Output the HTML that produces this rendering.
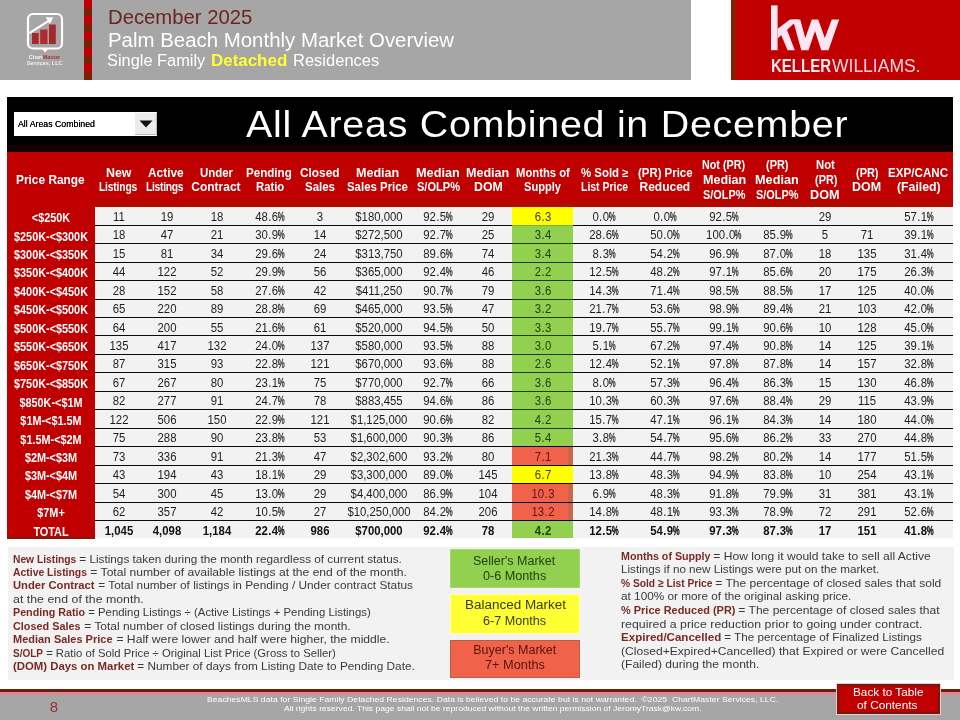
<!DOCTYPE html>
<html lang="en"><head><meta charset="utf-8"><title>Palm Beach Monthly Market Overview</title>
<style>
*{box-sizing:border-box;margin:0;padding:0}
html,body{width:960px;height:720px;overflow:hidden;background:#fff}
body{position:relative;font-family:"Liberation Sans",sans-serif;color:#222;will-change:transform}
.a{position:absolute}
.t{position:absolute;white-space:nowrap}
.c{position:absolute;width:100px;margin-left:-50px;text-align:center;white-space:nowrap}
.hd{color:#fff;font-weight:bold;font-size:12px;line-height:14px}
.d{font-size:11.9px;line-height:18px;color:#1e1e1e;transform:scaleX(.955)}
.d.b{font-weight:bold;color:#101010}
.p{display:inline-block;transform:scaleX(.68);transform-origin:0 50%;margin-right:-3.3px;margin-left:-0.4px;-webkit-text-stroke:.3px currentColor}
.dt{margin:0 0.45px}
.lb{color:#fff;font-weight:bold;font-size:12px;line-height:18px;transform:scaleX(.905)}
.lg{font-size:11.3px;line-height:13.4px;color:#3a3a3a}
.lg b{color:#7a2a22}
.ft{font-size:7.9px;line-height:9px;color:#fff}
</style></head><body>
<div class="a" style="left:0;top:0;width:690.8px;height:79.6px;background:#a6a6a6"></div>
<div class="a" style="left:84px;top:0;width:8px;height:80px;background:repeating-linear-gradient(180deg,#c00000 0,#c00000 8px,#7e2106 8px,#7e2106 16px)"></div>
<div class="a" style="left:731px;top:0;width:229px;height:79.7px;background:#c00000"></div>
<div class="a" style="left:731px;top:0;width:4.8px;height:79.7px;background:#8a1c08"></div>
<div class="t " style="left:107.50px;top:5.30px;letter-spacing:0.000px;transform:scaleX(1.025);transform-origin:0 0;font-size:19.8px;line-height:24px;color:#6e2222">December 2025</div>
<div class="t " style="left:107.50px;top:28.40px;letter-spacing:0.000px;transform:scaleX(1.053);transform-origin:0 0;font-size:19.4px;line-height:24px;color:#fff">Palm Beach Monthly Market Overview</div>
<div class="t " style="left:107.20px;top:49.30px;letter-spacing:0.000px;transform:scaleX(1.006);transform-origin:0 0;font-size:16.3px;line-height:22px;color:#fff">Single Family</div>
<div class="t " style="left:210.80px;top:49.30px;letter-spacing:0.000px;transform:scaleX(1.040);transform-origin:0 0;font-size:16.3px;line-height:22px;color:#ffff33;font-weight:bold">Detached</div>
<div class="t " style="left:292.50px;top:49.30px;letter-spacing:0.000px;transform:scaleX(1.014);transform-origin:0 0;font-size:16.3px;line-height:22px;color:#fff">Residences</div>
<svg class="a" style="left:20px;top:8px" width="50" height="66" viewBox="20 8 50 66">
<rect x="28" y="14" width="34" height="34.5" rx="5" ry="5" fill="none" stroke="#fff" stroke-width="2.2"/>
<path d="M41.5 48.5 L45 52.5 L48.5 48.5 Z" fill="#fff"/>
<rect x="32" y="33" width="6.7" height="11" fill="#a5282a"/>
<rect x="40.2" y="29.5" width="7.3" height="14.5" fill="#b32a2c"/>
<rect x="49" y="24.5" width="6.8" height="19.5" fill="#a5282a"/>
<path d="M29.3 33.2 L49 20.6" stroke="#fff" stroke-width="2.1" fill="none"/>
<path d="M45.6 17.2 L53.2 17.4 L49.8 24 Z" fill="#fff"/>
<text x="44.5" y="58.6" font-family="Liberation Sans, sans-serif" font-weight="bold" font-size="5.4" text-anchor="middle" fill="#f2f2f2">Chart<tspan fill="#a33">Master</tspan></text>
<text x="44.5" y="64.6" font-family="Liberation Sans, sans-serif" font-weight="bold" font-size="5.4" text-anchor="middle" fill="#f2f2f2">Services, LLC</text>
</svg>
<svg class="a" style="left:760px;top:0" width="180" height="80" viewBox="760 0 180 80">
<g fill="#fde6f2">
<rect x="771" y="5.4" width="6.6" height="44.8"/>
<polygon points="777.6,28.8 790,19.6 798.2,19.6 777.6,38.4"/>
<polygon points="780.6,33.4 786.6,28.8 794.8,50.2 787.6,50.2"/>
<polygon points="792.8,19.6 800.2,19.6 805.3,38 811.8,19.6 818.2,19.6 824.8,38 831.8,19.6 839.2,19.6 828.5,50.2 821.3,50.2 815,31 808.5,50.2 801.3,50.2"/>
</g>
<text x="771" y="72.2" font-family="Liberation Sans, sans-serif" font-size="18.4" font-weight="bold" fill="#fde6f2" textLength="60" lengthAdjust="spacingAndGlyphs">KELLER</text>
<text x="832" y="72.2" font-family="Liberation Sans, sans-serif" font-size="18.4" fill="#fbd5e2" textLength="88.5" lengthAdjust="spacingAndGlyphs">WILLIAMS.</text>
</svg>
<div class="a" style="left:7px;top:97px;width:946px;height:48px;background:#000"></div>
<div class="a" style="left:7px;top:144.5px;width:946px;height:7.5px;background:#190000"></div>
<div class="a" style="left:7px;top:151.5px;width:946px;height:55.80px;background:#c00000"></div>
<div class="a" style="left:7px;top:206.80px;width:88px;height:332.00px;background:#c00000;border-bottom:2px solid #7a1c0a"></div>
<div class="a" style="left:95px;top:200.6px;width:858px;height:6.50px;background:#b30a00"></div>
<div class="a" style="left:14px;top:112px;width:143px;height:23.5px;background:#fff"></div>
<div class="a" style="left:135px;top:112.5px;width:21.5px;height:22.5px;background:#ececec;border-right:1px solid #bbb;border-bottom:1px solid #bbb"></div>
<svg class="a" style="left:139px;top:120px" width="14" height="8" viewBox="0 0 14 8"><path d="M0.5 0.5 L13.5 0.5 L7 7.5 Z" fill="#111"/></svg>
<div class="t " style="left:18.00px;top:118.00px;letter-spacing:0.000px;transform:scaleX(0.974);transform-origin:0 0;font-size:9px;line-height:12px;color:#000;text-shadow:0 0 .4px #000">All Areas Combined</div>
<div class="t " style="left:246.40px;top:102.20px;letter-spacing:0.683px;transform:scaleX(1.060);transform-origin:0 0;font-size:37.2px;line-height:44px;color:#fff">All Areas Combined in December</div>
<div class="t hd" style="left:16.25px;top:173.40px;letter-spacing:0.000px;transform:scaleX(0.944);transform-origin:0 0;font-size:12.6px">Price Range</div>
<div class="t hd" style="left:106.25px;top:165.50px;letter-spacing:0.000px;transform:scaleX(1.033);transform-origin:0 0;">New</div>
<div class="t hd" style="left:99.25px;top:179.90px;letter-spacing:-0.220px;transform:scaleX(0.860);transform-origin:0 0;">Listings</div>
<div class="t hd" style="left:147.50px;top:165.50px;letter-spacing:0.000px;transform:scaleX(0.992);transform-origin:0 0;">Active</div>
<div class="t hd" style="left:146.25px;top:179.90px;letter-spacing:-0.344px;transform:scaleX(0.860);transform-origin:0 0;">Listings</div>
<div class="t hd" style="left:199.50px;top:165.50px;letter-spacing:0.000px;transform:scaleX(0.952);transform-origin:0 0;">Under</div>
<div class="t hd" style="left:191.25px;top:179.90px;letter-spacing:0.000px;">Contract</div>
<div class="t hd" style="left:246.25px;top:165.50px;letter-spacing:0.000px;transform:scaleX(0.966);transform-origin:0 0;">Pending</div>
<div class="t hd" style="left:256.25px;top:179.90px;letter-spacing:0.000px;transform:scaleX(0.942);transform-origin:0 0;">Ratio</div>
<div class="t hd" style="left:300.00px;top:165.50px;letter-spacing:0.000px;transform:scaleX(0.987);transform-origin:0 0;">Closed</div>
<div class="t hd" style="left:305.00px;top:179.90px;letter-spacing:0.000px;transform:scaleX(0.957);transform-origin:0 0;">Sales</div>
<div class="t hd" style="left:356.25px;top:165.50px;letter-spacing:-0.000px;transform:scaleX(1.046);transform-origin:0 0;">Median</div>
<div class="t hd" style="left:347.00px;top:179.90px;letter-spacing:0.000px;transform:scaleX(0.952);transform-origin:0 0;">Sales Price</div>
<div class="t hd" style="left:416.25px;top:165.50px;letter-spacing:0.000px;transform:scaleX(1.058);transform-origin:0 0;">Median</div>
<div class="t hd" style="left:417.00px;top:179.90px;letter-spacing:0.000px;transform:scaleX(0.921);transform-origin:0 0;">S/OLP%</div>
<div class="t hd" style="left:466.25px;top:165.50px;letter-spacing:-0.000px;transform:scaleX(1.046);transform-origin:0 0;">Median</div>
<div class="t hd" style="left:474.25px;top:179.90px;letter-spacing:0.000px;transform:scaleX(1.027);transform-origin:0 0;">DOM</div>
<div class="t hd" style="left:516.25px;top:165.50px;letter-spacing:0.000px;transform:scaleX(0.938);transform-origin:0 0;">Months of</div>
<div class="t hd" style="left:524.25px;top:179.90px;letter-spacing:0.000px;transform:scaleX(0.925);transform-origin:0 0;">Supply</div>
<div class="t hd" style="left:581.25px;top:165.50px;letter-spacing:0.000px;transform:scaleX(0.951);transform-origin:0 0;">% Sold ≥</div>
<div class="t hd" style="left:580.50px;top:179.90px;letter-spacing:0.000px;transform:scaleX(0.870);transform-origin:0 0;">List Price</div>
<div class="t hd" style="left:637.50px;top:165.50px;letter-spacing:0.000px;transform:scaleX(0.950);transform-origin:0 0;">(PR) Price</div>
<div class="t hd" style="left:639.50px;top:179.90px;letter-spacing:0.000px;">Reduced</div>
<div class="t hd" style="left:702.00px;top:158.20px;letter-spacing:0.000px;transform:scaleX(0.896);transform-origin:0 0;">Not (PR)</div>
<div class="t hd" style="left:702.50px;top:172.95px;letter-spacing:-0.000px;transform:scaleX(1.046);transform-origin:0 0;">Median</div>
<div class="t hd" style="left:702.50px;top:187.70px;letter-spacing:0.000px;transform:scaleX(0.910);transform-origin:0 0;">S/OLP%</div>
<div class="t hd" style="left:766.25px;top:158.20px;letter-spacing:0.000px;transform:scaleX(0.912);transform-origin:0 0;">(PR)</div>
<div class="t hd" style="left:755.00px;top:172.95px;letter-spacing:0.000px;transform:scaleX(1.058);transform-origin:0 0;">Median</div>
<div class="t hd" style="left:756.25px;top:187.70px;letter-spacing:0.000px;transform:scaleX(0.910);transform-origin:0 0;">S/OLP%</div>
<div class="t hd" style="left:816.25px;top:158.20px;letter-spacing:0.000px;transform:scaleX(0.938);transform-origin:0 0;">Not</div>
<div class="t hd" style="left:814.50px;top:172.95px;letter-spacing:0.000px;transform:scaleX(0.912);transform-origin:0 0;">(PR)</div>
<div class="t hd" style="left:810.00px;top:187.70px;letter-spacing:0.000px;transform:scaleX(1.054);transform-origin:0 0;">DOM</div>
<div class="t hd" style="left:856.00px;top:165.50px;letter-spacing:0.000px;transform:scaleX(0.912);transform-origin:0 0;">(PR)</div>
<div class="t hd" style="left:852.20px;top:179.90px;letter-spacing:0.000px;transform:scaleX(1.039);transform-origin:0 0;">DOM</div>
<div class="t hd" style="left:888.40px;top:165.50px;letter-spacing:0.000px;transform:scaleX(0.969);transform-origin:0 0;">EXP/CANC</div>
<div class="t hd" style="left:896.70px;top:179.90px;letter-spacing:0.000px;transform:scaleX(1.024);transform-origin:0 0;">(Failed)</div>
<div class="a" style="left:95px;top:206.80px;width:858px;height:331.70px;background:#f2f2f2"></div>
<div class="a" style="left:512px;top:206.80px;width:61px;height:18.75px;background:#ffff00"></div>
<div class="a" style="left:512px;top:225.25px;width:61px;height:18.75px;background:#92d050"></div>
<div class="a" style="left:512px;top:243.70px;width:61px;height:18.75px;background:#92d050"></div>
<div class="a" style="left:512px;top:262.15px;width:61px;height:18.75px;background:#92d050"></div>
<div class="a" style="left:512px;top:280.60px;width:61px;height:18.75px;background:#92d050"></div>
<div class="a" style="left:512px;top:299.05px;width:61px;height:18.75px;background:#92d050"></div>
<div class="a" style="left:512px;top:317.50px;width:61px;height:18.75px;background:#92d050"></div>
<div class="a" style="left:512px;top:335.95px;width:61px;height:18.75px;background:#92d050"></div>
<div class="a" style="left:512px;top:354.40px;width:61px;height:18.75px;background:#92d050"></div>
<div class="a" style="left:512px;top:372.85px;width:61px;height:18.75px;background:#92d050"></div>
<div class="a" style="left:512px;top:391.30px;width:61px;height:18.75px;background:#92d050"></div>
<div class="a" style="left:512px;top:409.75px;width:61px;height:18.75px;background:#92d050"></div>
<div class="a" style="left:512px;top:428.20px;width:61px;height:18.75px;background:#92d050"></div>
<div class="a" style="left:512px;top:446.65px;width:61px;height:18.75px;background:#f0634a"></div>
<div class="a" style="left:568.4px;top:446.65px;width:4.6px;height:18.75px;background:#c4694a"></div>
<div class="a" style="left:512px;top:465.10px;width:61px;height:18.75px;background:#ffff00"></div>
<div class="a" style="left:512px;top:483.55px;width:61px;height:18.75px;background:#f0634a"></div>
<div class="a" style="left:568.4px;top:483.55px;width:4.6px;height:18.75px;background:#c4694a"></div>
<div class="a" style="left:512px;top:502.00px;width:61px;height:18.75px;background:#f0634a"></div>
<div class="a" style="left:568.4px;top:502.00px;width:4.6px;height:18.75px;background:#c4694a"></div>
<div class="a" style="left:512px;top:520.45px;width:61px;height:18.05px;background:#92d050"></div>
<div class="a" style="left:95px;top:225px;width:417px;height:1px;background:#0a0a0a"></div>
<div class="a" style="left:512px;top:225px;width:61px;height:1px;background:rgba(40,40,0,.18)"></div>
<div class="a" style="left:573px;top:225px;width:380px;height:1px;background:#0a0a0a"></div>
<div class="a" style="left:95px;top:243px;width:417px;height:1px;background:#0a0a0a"></div>
<div class="a" style="left:512px;top:243px;width:61px;height:1px;background:rgba(0,15,0,.78)"></div>
<div class="a" style="left:573px;top:243px;width:380px;height:1px;background:#0a0a0a"></div>
<div class="a" style="left:95px;top:262px;width:417px;height:1px;background:#0a0a0a"></div>
<div class="a" style="left:512px;top:262px;width:61px;height:1px;background:rgba(0,15,0,.78)"></div>
<div class="a" style="left:573px;top:262px;width:380px;height:1px;background:#0a0a0a"></div>
<div class="a" style="left:95px;top:280px;width:417px;height:1px;background:#0a0a0a"></div>
<div class="a" style="left:512px;top:280px;width:61px;height:1px;background:rgba(0,15,0,.78)"></div>
<div class="a" style="left:573px;top:280px;width:380px;height:1px;background:#0a0a0a"></div>
<div class="a" style="left:95px;top:299px;width:417px;height:1px;background:#0a0a0a"></div>
<div class="a" style="left:512px;top:299px;width:61px;height:1px;background:rgba(0,15,0,.78)"></div>
<div class="a" style="left:573px;top:299px;width:380px;height:1px;background:#0a0a0a"></div>
<div class="a" style="left:95px;top:317px;width:417px;height:1px;background:#0a0a0a"></div>
<div class="a" style="left:512px;top:317px;width:61px;height:1px;background:rgba(0,15,0,.78)"></div>
<div class="a" style="left:573px;top:317px;width:380px;height:1px;background:#0a0a0a"></div>
<div class="a" style="left:95px;top:335px;width:417px;height:1px;background:#0a0a0a"></div>
<div class="a" style="left:512px;top:335px;width:61px;height:1px;background:rgba(0,15,0,.78)"></div>
<div class="a" style="left:573px;top:335px;width:380px;height:1px;background:#0a0a0a"></div>
<div class="a" style="left:95px;top:354px;width:417px;height:1px;background:#0a0a0a"></div>
<div class="a" style="left:512px;top:354px;width:61px;height:1px;background:rgba(0,15,0,.78)"></div>
<div class="a" style="left:573px;top:354px;width:380px;height:1px;background:#0a0a0a"></div>
<div class="a" style="left:95px;top:372px;width:417px;height:1px;background:#0a0a0a"></div>
<div class="a" style="left:512px;top:372px;width:61px;height:1px;background:rgba(0,15,0,.78)"></div>
<div class="a" style="left:573px;top:372px;width:380px;height:1px;background:#0a0a0a"></div>
<div class="a" style="left:95px;top:391px;width:417px;height:1px;background:#0a0a0a"></div>
<div class="a" style="left:512px;top:391px;width:61px;height:1px;background:rgba(0,15,0,.78)"></div>
<div class="a" style="left:573px;top:391px;width:380px;height:1px;background:#0a0a0a"></div>
<div class="a" style="left:95px;top:409px;width:417px;height:1px;background:#0a0a0a"></div>
<div class="a" style="left:512px;top:409px;width:61px;height:1px;background:rgba(0,15,0,.78)"></div>
<div class="a" style="left:573px;top:409px;width:380px;height:1px;background:#0a0a0a"></div>
<div class="a" style="left:95px;top:428px;width:417px;height:1px;background:#0a0a0a"></div>
<div class="a" style="left:512px;top:428px;width:61px;height:1px;background:rgba(0,15,0,.78)"></div>
<div class="a" style="left:573px;top:428px;width:380px;height:1px;background:#0a0a0a"></div>
<div class="a" style="left:95px;top:446px;width:858px;height:1px;background:#0a0a0a"></div>
<div class="a" style="left:95px;top:465px;width:858px;height:1px;background:#0a0a0a"></div>
<div class="a" style="left:95px;top:483px;width:858px;height:1px;background:#0a0a0a"></div>
<div class="a" style="left:95px;top:502px;width:858px;height:1px;background:#0a0a0a"></div>
<div class="a" style="left:95px;top:520px;width:858px;height:1px;background:#0a0a0a"></div>
<div class="c lb" style="left:51px;top:209.10px">&lt;$250K</div>
<div class="c d" style="left:119.3px;top:207.85px">11</div>
<div class="c d" style="left:166.5px;top:207.85px">19</div>
<div class="c d" style="left:217.2px;top:207.85px">18</div>
<div class="c d" style="left:270.0px;top:207.85px">48<span class="dt">.</span>6<span class="p">%</span></div>
<div class="c d" style="left:320.3px;top:207.85px">3</div>
<div class="c d" style="left:378.6px;top:207.85px">$180,000</div>
<div class="c d" style="left:438.2px;top:207.85px">92<span class="dt">.</span>5<span class="p">%</span></div>
<div class="c d" style="left:488.3px;top:207.85px">29</div>
<div class="c d" style="left:542.5px;top:207.85px;color:#3d3a05">6<span class="dt">.</span>3</div>
<div class="c d" style="left:604.2px;top:207.85px">0<span class="dt">.</span>0<span class="p">%</span></div>
<div class="c d" style="left:665.0px;top:207.85px">0<span class="dt">.</span>0<span class="p">%</span></div>
<div class="c d" style="left:723.7px;top:207.85px">92<span class="dt">.</span>5<span class="p">%</span></div>
<div class="c d" style="left:825.0px;top:207.85px">29</div>
<div class="c d" style="left:919.0px;top:207.85px">57<span class="dt">.</span>1<span class="p">%</span></div>
<div class="c lb" style="left:51px;top:227.55px">$250K-&lt;$300K</div>
<div class="c d" style="left:119.3px;top:226.30px">18</div>
<div class="c d" style="left:166.5px;top:226.30px">47</div>
<div class="c d" style="left:217.2px;top:226.30px">21</div>
<div class="c d" style="left:270.0px;top:226.30px">30<span class="dt">.</span>9<span class="p">%</span></div>
<div class="c d" style="left:320.3px;top:226.30px">14</div>
<div class="c d" style="left:378.6px;top:226.30px">$272,500</div>
<div class="c d" style="left:438.2px;top:226.30px">92<span class="dt">.</span>7<span class="p">%</span></div>
<div class="c d" style="left:488.3px;top:226.30px">25</div>
<div class="c d" style="left:542.5px;top:226.30px;color:#233f0f">3<span class="dt">.</span>4</div>
<div class="c d" style="left:604.2px;top:226.30px">28<span class="dt">.</span>6<span class="p">%</span></div>
<div class="c d" style="left:665.0px;top:226.30px">50<span class="dt">.</span>0<span class="p">%</span></div>
<div class="c d" style="left:723.7px;top:226.30px">100<span class="dt">.</span>0<span class="p">%</span></div>
<div class="c d" style="left:777.8px;top:226.30px">85<span class="dt">.</span>9<span class="p">%</span></div>
<div class="c d" style="left:825.0px;top:226.30px">5</div>
<div class="c d" style="left:867.0px;top:226.30px">71</div>
<div class="c d" style="left:919.0px;top:226.30px">39<span class="dt">.</span>1<span class="p">%</span></div>
<div class="c lb" style="left:51px;top:246.00px">$300K-&lt;$350K</div>
<div class="c d" style="left:119.3px;top:244.75px">15</div>
<div class="c d" style="left:166.5px;top:244.75px">81</div>
<div class="c d" style="left:217.2px;top:244.75px">34</div>
<div class="c d" style="left:270.0px;top:244.75px">29<span class="dt">.</span>6<span class="p">%</span></div>
<div class="c d" style="left:320.3px;top:244.75px">24</div>
<div class="c d" style="left:378.6px;top:244.75px">$313,750</div>
<div class="c d" style="left:438.2px;top:244.75px">89<span class="dt">.</span>6<span class="p">%</span></div>
<div class="c d" style="left:488.3px;top:244.75px">74</div>
<div class="c d" style="left:542.5px;top:244.75px;color:#233f0f">3<span class="dt">.</span>4</div>
<div class="c d" style="left:604.2px;top:244.75px">8<span class="dt">.</span>3<span class="p">%</span></div>
<div class="c d" style="left:665.0px;top:244.75px">54<span class="dt">.</span>2<span class="p">%</span></div>
<div class="c d" style="left:723.7px;top:244.75px">96<span class="dt">.</span>9<span class="p">%</span></div>
<div class="c d" style="left:777.8px;top:244.75px">87<span class="dt">.</span>0<span class="p">%</span></div>
<div class="c d" style="left:825.0px;top:244.75px">18</div>
<div class="c d" style="left:867.0px;top:244.75px">135</div>
<div class="c d" style="left:919.0px;top:244.75px">31<span class="dt">.</span>4<span class="p">%</span></div>
<div class="c lb" style="left:51px;top:264.45px">$350K-&lt;$400K</div>
<div class="c d" style="left:119.3px;top:263.20px">44</div>
<div class="c d" style="left:166.5px;top:263.20px">122</div>
<div class="c d" style="left:217.2px;top:263.20px">52</div>
<div class="c d" style="left:270.0px;top:263.20px">29<span class="dt">.</span>9<span class="p">%</span></div>
<div class="c d" style="left:320.3px;top:263.20px">56</div>
<div class="c d" style="left:378.6px;top:263.20px">$365,000</div>
<div class="c d" style="left:438.2px;top:263.20px">92<span class="dt">.</span>4<span class="p">%</span></div>
<div class="c d" style="left:488.3px;top:263.20px">46</div>
<div class="c d" style="left:542.5px;top:263.20px;color:#233f0f">2<span class="dt">.</span>2</div>
<div class="c d" style="left:604.2px;top:263.20px">12<span class="dt">.</span>5<span class="p">%</span></div>
<div class="c d" style="left:665.0px;top:263.20px">48<span class="dt">.</span>2<span class="p">%</span></div>
<div class="c d" style="left:723.7px;top:263.20px">97<span class="dt">.</span>1<span class="p">%</span></div>
<div class="c d" style="left:777.8px;top:263.20px">85<span class="dt">.</span>6<span class="p">%</span></div>
<div class="c d" style="left:825.0px;top:263.20px">20</div>
<div class="c d" style="left:867.0px;top:263.20px">175</div>
<div class="c d" style="left:919.0px;top:263.20px">26<span class="dt">.</span>3<span class="p">%</span></div>
<div class="c lb" style="left:51px;top:282.90px">$400K-&lt;$450K</div>
<div class="c d" style="left:119.3px;top:281.65px">28</div>
<div class="c d" style="left:166.5px;top:281.65px">152</div>
<div class="c d" style="left:217.2px;top:281.65px">58</div>
<div class="c d" style="left:270.0px;top:281.65px">27<span class="dt">.</span>6<span class="p">%</span></div>
<div class="c d" style="left:320.3px;top:281.65px">42</div>
<div class="c d" style="left:378.6px;top:281.65px">$411,250</div>
<div class="c d" style="left:438.2px;top:281.65px">90<span class="dt">.</span>7<span class="p">%</span></div>
<div class="c d" style="left:488.3px;top:281.65px">79</div>
<div class="c d" style="left:542.5px;top:281.65px;color:#233f0f">3<span class="dt">.</span>6</div>
<div class="c d" style="left:604.2px;top:281.65px">14<span class="dt">.</span>3<span class="p">%</span></div>
<div class="c d" style="left:665.0px;top:281.65px">71<span class="dt">.</span>4<span class="p">%</span></div>
<div class="c d" style="left:723.7px;top:281.65px">98<span class="dt">.</span>5<span class="p">%</span></div>
<div class="c d" style="left:777.8px;top:281.65px">88<span class="dt">.</span>5<span class="p">%</span></div>
<div class="c d" style="left:825.0px;top:281.65px">17</div>
<div class="c d" style="left:867.0px;top:281.65px">125</div>
<div class="c d" style="left:919.0px;top:281.65px">40<span class="dt">.</span>0<span class="p">%</span></div>
<div class="c lb" style="left:51px;top:301.35px">$450K-&lt;$500K</div>
<div class="c d" style="left:119.3px;top:300.10px">65</div>
<div class="c d" style="left:166.5px;top:300.10px">220</div>
<div class="c d" style="left:217.2px;top:300.10px">89</div>
<div class="c d" style="left:270.0px;top:300.10px">28<span class="dt">.</span>8<span class="p">%</span></div>
<div class="c d" style="left:320.3px;top:300.10px">69</div>
<div class="c d" style="left:378.6px;top:300.10px">$465,000</div>
<div class="c d" style="left:438.2px;top:300.10px">93<span class="dt">.</span>5<span class="p">%</span></div>
<div class="c d" style="left:488.3px;top:300.10px">47</div>
<div class="c d" style="left:542.5px;top:300.10px;color:#233f0f">3<span class="dt">.</span>2</div>
<div class="c d" style="left:604.2px;top:300.10px">21<span class="dt">.</span>7<span class="p">%</span></div>
<div class="c d" style="left:665.0px;top:300.10px">53<span class="dt">.</span>6<span class="p">%</span></div>
<div class="c d" style="left:723.7px;top:300.10px">98<span class="dt">.</span>9<span class="p">%</span></div>
<div class="c d" style="left:777.8px;top:300.10px">89<span class="dt">.</span>4<span class="p">%</span></div>
<div class="c d" style="left:825.0px;top:300.10px">21</div>
<div class="c d" style="left:867.0px;top:300.10px">103</div>
<div class="c d" style="left:919.0px;top:300.10px">42<span class="dt">.</span>0<span class="p">%</span></div>
<div class="c lb" style="left:51px;top:319.80px">$500K-&lt;$550K</div>
<div class="c d" style="left:119.3px;top:318.55px">64</div>
<div class="c d" style="left:166.5px;top:318.55px">200</div>
<div class="c d" style="left:217.2px;top:318.55px">55</div>
<div class="c d" style="left:270.0px;top:318.55px">21<span class="dt">.</span>6<span class="p">%</span></div>
<div class="c d" style="left:320.3px;top:318.55px">61</div>
<div class="c d" style="left:378.6px;top:318.55px">$520,000</div>
<div class="c d" style="left:438.2px;top:318.55px">94<span class="dt">.</span>5<span class="p">%</span></div>
<div class="c d" style="left:488.3px;top:318.55px">50</div>
<div class="c d" style="left:542.5px;top:318.55px;color:#233f0f">3<span class="dt">.</span>3</div>
<div class="c d" style="left:604.2px;top:318.55px">19<span class="dt">.</span>7<span class="p">%</span></div>
<div class="c d" style="left:665.0px;top:318.55px">55<span class="dt">.</span>7<span class="p">%</span></div>
<div class="c d" style="left:723.7px;top:318.55px">99<span class="dt">.</span>1<span class="p">%</span></div>
<div class="c d" style="left:777.8px;top:318.55px">90<span class="dt">.</span>6<span class="p">%</span></div>
<div class="c d" style="left:825.0px;top:318.55px">10</div>
<div class="c d" style="left:867.0px;top:318.55px">128</div>
<div class="c d" style="left:919.0px;top:318.55px">45<span class="dt">.</span>0<span class="p">%</span></div>
<div class="c lb" style="left:51px;top:338.25px">$550K-&lt;$650K</div>
<div class="c d" style="left:119.3px;top:337.00px">135</div>
<div class="c d" style="left:166.5px;top:337.00px">417</div>
<div class="c d" style="left:217.2px;top:337.00px">132</div>
<div class="c d" style="left:270.0px;top:337.00px">24<span class="dt">.</span>0<span class="p">%</span></div>
<div class="c d" style="left:320.3px;top:337.00px">137</div>
<div class="c d" style="left:378.6px;top:337.00px">$580,000</div>
<div class="c d" style="left:438.2px;top:337.00px">93<span class="dt">.</span>5<span class="p">%</span></div>
<div class="c d" style="left:488.3px;top:337.00px">88</div>
<div class="c d" style="left:542.5px;top:337.00px;color:#233f0f">3<span class="dt">.</span>0</div>
<div class="c d" style="left:604.2px;top:337.00px">5<span class="dt">.</span>1<span class="p">%</span></div>
<div class="c d" style="left:665.0px;top:337.00px">67<span class="dt">.</span>2<span class="p">%</span></div>
<div class="c d" style="left:723.7px;top:337.00px">97<span class="dt">.</span>4<span class="p">%</span></div>
<div class="c d" style="left:777.8px;top:337.00px">90<span class="dt">.</span>8<span class="p">%</span></div>
<div class="c d" style="left:825.0px;top:337.00px">14</div>
<div class="c d" style="left:867.0px;top:337.00px">125</div>
<div class="c d" style="left:919.0px;top:337.00px">39<span class="dt">.</span>1<span class="p">%</span></div>
<div class="c lb" style="left:51px;top:356.70px">$650K-&lt;$750K</div>
<div class="c d" style="left:119.3px;top:355.45px">87</div>
<div class="c d" style="left:166.5px;top:355.45px">315</div>
<div class="c d" style="left:217.2px;top:355.45px">93</div>
<div class="c d" style="left:270.0px;top:355.45px">22<span class="dt">.</span>8<span class="p">%</span></div>
<div class="c d" style="left:320.3px;top:355.45px">121</div>
<div class="c d" style="left:378.6px;top:355.45px">$670,000</div>
<div class="c d" style="left:438.2px;top:355.45px">93<span class="dt">.</span>6<span class="p">%</span></div>
<div class="c d" style="left:488.3px;top:355.45px">88</div>
<div class="c d" style="left:542.5px;top:355.45px;color:#233f0f">2<span class="dt">.</span>6</div>
<div class="c d" style="left:604.2px;top:355.45px">12<span class="dt">.</span>4<span class="p">%</span></div>
<div class="c d" style="left:665.0px;top:355.45px">52<span class="dt">.</span>1<span class="p">%</span></div>
<div class="c d" style="left:723.7px;top:355.45px">97<span class="dt">.</span>8<span class="p">%</span></div>
<div class="c d" style="left:777.8px;top:355.45px">87<span class="dt">.</span>8<span class="p">%</span></div>
<div class="c d" style="left:825.0px;top:355.45px">14</div>
<div class="c d" style="left:867.0px;top:355.45px">157</div>
<div class="c d" style="left:919.0px;top:355.45px">32<span class="dt">.</span>8<span class="p">%</span></div>
<div class="c lb" style="left:51px;top:375.15px">$750K-&lt;$850K</div>
<div class="c d" style="left:119.3px;top:373.90px">67</div>
<div class="c d" style="left:166.5px;top:373.90px">267</div>
<div class="c d" style="left:217.2px;top:373.90px">80</div>
<div class="c d" style="left:270.0px;top:373.90px">23<span class="dt">.</span>1<span class="p">%</span></div>
<div class="c d" style="left:320.3px;top:373.90px">75</div>
<div class="c d" style="left:378.6px;top:373.90px">$770,000</div>
<div class="c d" style="left:438.2px;top:373.90px">92<span class="dt">.</span>7<span class="p">%</span></div>
<div class="c d" style="left:488.3px;top:373.90px">66</div>
<div class="c d" style="left:542.5px;top:373.90px;color:#233f0f">3<span class="dt">.</span>6</div>
<div class="c d" style="left:604.2px;top:373.90px">8<span class="dt">.</span>0<span class="p">%</span></div>
<div class="c d" style="left:665.0px;top:373.90px">57<span class="dt">.</span>3<span class="p">%</span></div>
<div class="c d" style="left:723.7px;top:373.90px">96<span class="dt">.</span>4<span class="p">%</span></div>
<div class="c d" style="left:777.8px;top:373.90px">86<span class="dt">.</span>3<span class="p">%</span></div>
<div class="c d" style="left:825.0px;top:373.90px">15</div>
<div class="c d" style="left:867.0px;top:373.90px">130</div>
<div class="c d" style="left:919.0px;top:373.90px">46<span class="dt">.</span>8<span class="p">%</span></div>
<div class="c lb" style="left:51px;top:393.60px">$850K-&lt;$1M</div>
<div class="c d" style="left:119.3px;top:392.35px">82</div>
<div class="c d" style="left:166.5px;top:392.35px">277</div>
<div class="c d" style="left:217.2px;top:392.35px">91</div>
<div class="c d" style="left:270.0px;top:392.35px">24<span class="dt">.</span>7<span class="p">%</span></div>
<div class="c d" style="left:320.3px;top:392.35px">78</div>
<div class="c d" style="left:378.6px;top:392.35px">$883,455</div>
<div class="c d" style="left:438.2px;top:392.35px">94<span class="dt">.</span>6<span class="p">%</span></div>
<div class="c d" style="left:488.3px;top:392.35px">86</div>
<div class="c d" style="left:542.5px;top:392.35px;color:#233f0f">3<span class="dt">.</span>6</div>
<div class="c d" style="left:604.2px;top:392.35px">10<span class="dt">.</span>3<span class="p">%</span></div>
<div class="c d" style="left:665.0px;top:392.35px">60<span class="dt">.</span>3<span class="p">%</span></div>
<div class="c d" style="left:723.7px;top:392.35px">97<span class="dt">.</span>6<span class="p">%</span></div>
<div class="c d" style="left:777.8px;top:392.35px">88<span class="dt">.</span>4<span class="p">%</span></div>
<div class="c d" style="left:825.0px;top:392.35px">29</div>
<div class="c d" style="left:867.0px;top:392.35px">115</div>
<div class="c d" style="left:919.0px;top:392.35px">43<span class="dt">.</span>9<span class="p">%</span></div>
<div class="c lb" style="left:51px;top:412.05px">$1M-&lt;$1.5M</div>
<div class="c d" style="left:119.3px;top:410.80px">122</div>
<div class="c d" style="left:166.5px;top:410.80px">506</div>
<div class="c d" style="left:217.2px;top:410.80px">150</div>
<div class="c d" style="left:270.0px;top:410.80px">22<span class="dt">.</span>9<span class="p">%</span></div>
<div class="c d" style="left:320.3px;top:410.80px">121</div>
<div class="c d" style="left:378.6px;top:410.80px">$1,125,000</div>
<div class="c d" style="left:438.2px;top:410.80px">90<span class="dt">.</span>6<span class="p">%</span></div>
<div class="c d" style="left:488.3px;top:410.80px">82</div>
<div class="c d" style="left:542.5px;top:410.80px;color:#233f0f">4<span class="dt">.</span>2</div>
<div class="c d" style="left:604.2px;top:410.80px">15<span class="dt">.</span>7<span class="p">%</span></div>
<div class="c d" style="left:665.0px;top:410.80px">47<span class="dt">.</span>1<span class="p">%</span></div>
<div class="c d" style="left:723.7px;top:410.80px">96<span class="dt">.</span>1<span class="p">%</span></div>
<div class="c d" style="left:777.8px;top:410.80px">84<span class="dt">.</span>3<span class="p">%</span></div>
<div class="c d" style="left:825.0px;top:410.80px">14</div>
<div class="c d" style="left:867.0px;top:410.80px">180</div>
<div class="c d" style="left:919.0px;top:410.80px">44<span class="dt">.</span>0<span class="p">%</span></div>
<div class="c lb" style="left:51px;top:430.50px">$1.5M-&lt;$2M</div>
<div class="c d" style="left:119.3px;top:429.25px">75</div>
<div class="c d" style="left:166.5px;top:429.25px">288</div>
<div class="c d" style="left:217.2px;top:429.25px">90</div>
<div class="c d" style="left:270.0px;top:429.25px">23<span class="dt">.</span>8<span class="p">%</span></div>
<div class="c d" style="left:320.3px;top:429.25px">53</div>
<div class="c d" style="left:378.6px;top:429.25px">$1,600,000</div>
<div class="c d" style="left:438.2px;top:429.25px">90<span class="dt">.</span>3<span class="p">%</span></div>
<div class="c d" style="left:488.3px;top:429.25px">86</div>
<div class="c d" style="left:542.5px;top:429.25px;color:#233f0f">5<span class="dt">.</span>4</div>
<div class="c d" style="left:604.2px;top:429.25px">3<span class="dt">.</span>8<span class="p">%</span></div>
<div class="c d" style="left:665.0px;top:429.25px">54<span class="dt">.</span>7<span class="p">%</span></div>
<div class="c d" style="left:723.7px;top:429.25px">95<span class="dt">.</span>6<span class="p">%</span></div>
<div class="c d" style="left:777.8px;top:429.25px">86<span class="dt">.</span>2<span class="p">%</span></div>
<div class="c d" style="left:825.0px;top:429.25px">33</div>
<div class="c d" style="left:867.0px;top:429.25px">270</div>
<div class="c d" style="left:919.0px;top:429.25px">44<span class="dt">.</span>8<span class="p">%</span></div>
<div class="c lb" style="left:51px;top:448.95px">$2M-&lt;$3M</div>
<div class="c d" style="left:119.3px;top:447.70px">73</div>
<div class="c d" style="left:166.5px;top:447.70px">336</div>
<div class="c d" style="left:217.2px;top:447.70px">91</div>
<div class="c d" style="left:270.0px;top:447.70px">21<span class="dt">.</span>3<span class="p">%</span></div>
<div class="c d" style="left:320.3px;top:447.70px">47</div>
<div class="c d" style="left:378.6px;top:447.70px">$2,302,600</div>
<div class="c d" style="left:438.2px;top:447.70px">93<span class="dt">.</span>2<span class="p">%</span></div>
<div class="c d" style="left:488.3px;top:447.70px">80</div>
<div class="c d" style="left:542.5px;top:447.70px;color:#5c1512">7<span class="dt">.</span>1</div>
<div class="c d" style="left:604.2px;top:447.70px">21<span class="dt">.</span>3<span class="p">%</span></div>
<div class="c d" style="left:665.0px;top:447.70px">44<span class="dt">.</span>7<span class="p">%</span></div>
<div class="c d" style="left:723.7px;top:447.70px">98<span class="dt">.</span>2<span class="p">%</span></div>
<div class="c d" style="left:777.8px;top:447.70px">80<span class="dt">.</span>2<span class="p">%</span></div>
<div class="c d" style="left:825.0px;top:447.70px">14</div>
<div class="c d" style="left:867.0px;top:447.70px">177</div>
<div class="c d" style="left:919.0px;top:447.70px">51<span class="dt">.</span>5<span class="p">%</span></div>
<div class="c lb" style="left:51px;top:467.40px">$3M-&lt;$4M</div>
<div class="c d" style="left:119.3px;top:466.15px">43</div>
<div class="c d" style="left:166.5px;top:466.15px">194</div>
<div class="c d" style="left:217.2px;top:466.15px">43</div>
<div class="c d" style="left:270.0px;top:466.15px">18<span class="dt">.</span>1<span class="p">%</span></div>
<div class="c d" style="left:320.3px;top:466.15px">29</div>
<div class="c d" style="left:378.6px;top:466.15px">$3,300,000</div>
<div class="c d" style="left:438.2px;top:466.15px">89<span class="dt">.</span>0<span class="p">%</span></div>
<div class="c d" style="left:488.3px;top:466.15px">145</div>
<div class="c d" style="left:542.5px;top:466.15px;color:#3d3a05">6<span class="dt">.</span>7</div>
<div class="c d" style="left:604.2px;top:466.15px">13<span class="dt">.</span>8<span class="p">%</span></div>
<div class="c d" style="left:665.0px;top:466.15px">48<span class="dt">.</span>3<span class="p">%</span></div>
<div class="c d" style="left:723.7px;top:466.15px">94<span class="dt">.</span>9<span class="p">%</span></div>
<div class="c d" style="left:777.8px;top:466.15px">83<span class="dt">.</span>8<span class="p">%</span></div>
<div class="c d" style="left:825.0px;top:466.15px">10</div>
<div class="c d" style="left:867.0px;top:466.15px">254</div>
<div class="c d" style="left:919.0px;top:466.15px">43<span class="dt">.</span>1<span class="p">%</span></div>
<div class="c lb" style="left:51px;top:485.85px">$4M-&lt;$7M</div>
<div class="c d" style="left:119.3px;top:484.60px">54</div>
<div class="c d" style="left:166.5px;top:484.60px">300</div>
<div class="c d" style="left:217.2px;top:484.60px">45</div>
<div class="c d" style="left:270.0px;top:484.60px">13<span class="dt">.</span>0<span class="p">%</span></div>
<div class="c d" style="left:320.3px;top:484.60px">29</div>
<div class="c d" style="left:378.6px;top:484.60px">$4,400,000</div>
<div class="c d" style="left:438.2px;top:484.60px">86<span class="dt">.</span>9<span class="p">%</span></div>
<div class="c d" style="left:488.3px;top:484.60px">104</div>
<div class="c d" style="left:542.5px;top:484.60px;color:#5c1512">10<span class="dt">.</span>3</div>
<div class="c d" style="left:604.2px;top:484.60px">6<span class="dt">.</span>9<span class="p">%</span></div>
<div class="c d" style="left:665.0px;top:484.60px">48<span class="dt">.</span>3<span class="p">%</span></div>
<div class="c d" style="left:723.7px;top:484.60px">91<span class="dt">.</span>8<span class="p">%</span></div>
<div class="c d" style="left:777.8px;top:484.60px">79<span class="dt">.</span>9<span class="p">%</span></div>
<div class="c d" style="left:825.0px;top:484.60px">31</div>
<div class="c d" style="left:867.0px;top:484.60px">381</div>
<div class="c d" style="left:919.0px;top:484.60px">43<span class="dt">.</span>1<span class="p">%</span></div>
<div class="c lb" style="left:51px;top:504.30px">$7M+</div>
<div class="c d" style="left:119.3px;top:503.05px">62</div>
<div class="c d" style="left:166.5px;top:503.05px">357</div>
<div class="c d" style="left:217.2px;top:503.05px">42</div>
<div class="c d" style="left:270.0px;top:503.05px">10<span class="dt">.</span>5<span class="p">%</span></div>
<div class="c d" style="left:320.3px;top:503.05px">27</div>
<div class="c d" style="left:378.6px;top:503.05px">$10,250,000</div>
<div class="c d" style="left:438.2px;top:503.05px">84<span class="dt">.</span>2<span class="p">%</span></div>
<div class="c d" style="left:488.3px;top:503.05px">206</div>
<div class="c d" style="left:542.5px;top:503.05px;color:#5c1512">13<span class="dt">.</span>2</div>
<div class="c d" style="left:604.2px;top:503.05px">14<span class="dt">.</span>8<span class="p">%</span></div>
<div class="c d" style="left:665.0px;top:503.05px">48<span class="dt">.</span>1<span class="p">%</span></div>
<div class="c d" style="left:723.7px;top:503.05px">93<span class="dt">.</span>3<span class="p">%</span></div>
<div class="c d" style="left:777.8px;top:503.05px">78<span class="dt">.</span>9<span class="p">%</span></div>
<div class="c d" style="left:825.0px;top:503.05px">72</div>
<div class="c d" style="left:867.0px;top:503.05px">291</div>
<div class="c d" style="left:919.0px;top:503.05px">52<span class="dt">.</span>6<span class="p">%</span></div>
<div class="c lb" style="left:51px;top:522.65px">TOTAL</div>
<div class="c d b" style="left:119.3px;top:521.65px">1,045</div>
<div class="c d b" style="left:166.5px;top:521.65px">4,098</div>
<div class="c d b" style="left:217.2px;top:521.65px">1,184</div>
<div class="c d b" style="left:270.0px;top:521.65px">22<span class="dt">.</span>4<span class="p">%</span></div>
<div class="c d b" style="left:320.3px;top:521.65px">986</div>
<div class="c d b" style="left:378.6px;top:521.65px">$700,000</div>
<div class="c d b" style="left:438.2px;top:521.65px">92<span class="dt">.</span>4<span class="p">%</span></div>
<div class="c d b" style="left:488.3px;top:521.65px">78</div>
<div class="c d b" style="left:542.5px;top:521.65px;color:#233f0f">4<span class="dt">.</span>2</div>
<div class="c d b" style="left:604.2px;top:521.65px">12<span class="dt">.</span>5<span class="p">%</span></div>
<div class="c d b" style="left:665.0px;top:521.65px">54<span class="dt">.</span>9<span class="p">%</span></div>
<div class="c d b" style="left:723.7px;top:521.65px">97<span class="dt">.</span>3<span class="p">%</span></div>
<div class="c d b" style="left:777.8px;top:521.65px">87<span class="dt">.</span>3<span class="p">%</span></div>
<div class="c d b" style="left:825.0px;top:521.65px">17</div>
<div class="c d b" style="left:867.0px;top:521.65px">151</div>
<div class="c d b" style="left:919.0px;top:521.65px">41<span class="dt">.</span>8<span class="p">%</span></div>
<div class="a" style="left:8px;top:547.3px;width:946px;height:132.4px;background:#f2f2f2"></div>
<div class="t lg" style="left:13.00px;top:552.50px;letter-spacing:0.000px;transform:scaleX(0.908);transform-origin:0 0;"><b>New Listings</b></div>
<div class="t lg" style="left:76.25px;top:552.50px;letter-spacing:0.000px;transform:scaleX(1.041);transform-origin:0 0;">&nbsp;= Listings taken during the month regardless of current status.</div>
<div class="t lg" style="left:13.00px;top:565.97px;letter-spacing:0.000px;transform:scaleX(0.921);transform-origin:0 0;"><b>Active Listings</b></div>
<div class="t lg" style="left:87.00px;top:565.97px;letter-spacing:0.000px;transform:scaleX(1.072);transform-origin:0 0;">&nbsp;= Total number of available listings at the end of the month.</div>
<div class="t lg" style="left:13.00px;top:579.44px;letter-spacing:0.000px;transform:scaleX(0.991);transform-origin:0 0;"><b>Under Contract</b></div>
<div class="t lg" style="left:94.50px;top:579.44px;letter-spacing:0.000px;transform:scaleX(1.048);transform-origin:0 0;">&nbsp;= Total number of listings in Pending / Under contract Status</div>
<div class="t lg" style="left:13.00px;top:592.91px;letter-spacing:0.027px;transform:scaleX(1.090);transform-origin:0 0;">at the end of the month.</div>
<div class="t lg" style="left:13.00px;top:606.38px;letter-spacing:0.000px;transform:scaleX(0.948);transform-origin:0 0;"><b>Pending Ratio</b></div>
<div class="t lg" style="left:85.00px;top:606.38px;letter-spacing:0.000px;transform:scaleX(1.007);transform-origin:0 0;">&nbsp;= Pending Listings ÷ (Active Listings + Pending Listings)</div>
<div class="t lg" style="left:13.00px;top:619.85px;letter-spacing:0.000px;transform:scaleX(0.960);transform-origin:0 0;"><b>Closed Sales</b></div>
<div class="t lg" style="left:80.50px;top:619.85px;letter-spacing:0.000px;transform:scaleX(1.057);transform-origin:0 0;">&nbsp;= Total number of closed listings during the month.</div>
<div class="t lg" style="left:13.00px;top:633.32px;letter-spacing:0.000px;transform:scaleX(0.972);transform-origin:0 0;"><b>Median Sales Price</b></div>
<div class="t lg" style="left:112.50px;top:633.32px;letter-spacing:0.000px;transform:scaleX(1.076);transform-origin:0 0;">&nbsp;= Half were lower and half were higher, the middle.</div>
<div class="t lg" style="left:13.00px;top:646.79px;letter-spacing:0.000px;transform:scaleX(0.885);transform-origin:0 0;"><b>S/OLP</b></div>
<div class="t lg" style="left:43.00px;top:646.79px;letter-spacing:-0.000px;">&nbsp;= Ratio of Sold Price ÷ Original List Price (Gross to Seller)</div>
<div class="t lg" style="left:13.00px;top:660.26px;letter-spacing:0.000px;transform:scaleX(1.006);transform-origin:0 0;"><b>(DOM) Days on Market</b></div>
<div class="t lg" style="left:134.25px;top:660.26px;letter-spacing:0.000px;transform:scaleX(1.046);transform-origin:0 0;">&nbsp;= Number of days from Listing Date to Pending Date.</div>
<div class="t lg" style="left:620.50px;top:549.60px;letter-spacing:0.000px;transform:scaleX(0.944);transform-origin:0 0;"><b>Months of Supply</b></div>
<div class="t lg" style="left:710.00px;top:549.60px;letter-spacing:0.000px;transform:scaleX(1.070);transform-origin:0 0;">&nbsp;= How long it would take to sell all Active</div>
<div class="t lg" style="left:620.50px;top:563.20px;letter-spacing:0.000px;transform:scaleX(1.033);transform-origin:0 0;">Listings if no new Listings were put on the market.</div>
<div class="t lg" style="left:620.50px;top:576.80px;letter-spacing:0.000px;transform:scaleX(0.906);transform-origin:0 0;"><b>% Sold ≥ List Price</b></div>
<div class="t lg" style="left:712.00px;top:576.80px;letter-spacing:0.000px;transform:scaleX(1.064);transform-origin:0 0;">&nbsp;= The percentage of closed sales that sold</div>
<div class="t lg" style="left:620.50px;top:590.40px;letter-spacing:0.000px;transform:scaleX(1.042);transform-origin:0 0;">at 100% or more of the original asking price.</div>
<div class="t lg" style="left:620.50px;top:604.00px;letter-spacing:0.000px;transform:scaleX(0.970);transform-origin:0 0;"><b>% Price Reduced (PR)</b></div>
<div class="t lg" style="left:735.00px;top:604.00px;letter-spacing:0.000px;transform:scaleX(1.067);transform-origin:0 0;">&nbsp;= The percentage of closed sales that</div>
<div class="t lg" style="left:620.50px;top:617.60px;letter-spacing:0.016px;transform:scaleX(1.090);transform-origin:0 0;">required a price reduction prior to going under contract.</div>
<div class="t lg" style="left:620.50px;top:631.20px;letter-spacing:0.000px;transform:scaleX(1.023);transform-origin:0 0;"><b>Expired/Cancelled</b></div>
<div class="t lg" style="left:720.75px;top:631.20px;letter-spacing:0.000px;transform:scaleX(1.035);transform-origin:0 0;">&nbsp;= The percentage of Finalized Listings</div>
<div class="t lg" style="left:620.50px;top:644.80px;letter-spacing:0.000px;transform:scaleX(1.070);transform-origin:0 0;">(Closed+Expired+Cancelled) that Expired or were Cancelled</div>
<div class="t lg" style="left:620.50px;top:658.40px;letter-spacing:0.000px;transform:scaleX(1.069);transform-origin:0 0;">(Failed) during the month.</div>
<div class="a" style="left:449.5px;top:549px;width:130.5px;height:39.39999999999998px;background:#92d050;border:1px solid #a4d86a"></div>
<div class="t " style="left:473.00px;top:553.67px;letter-spacing:0.000px;font-size:12.5px;line-height:15px;color:#1f3d0c">Seller&#x27;s Market</div>
<div class="t " style="left:482.50px;top:569.42px;letter-spacing:-0.000px;transform:scaleX(1.011);transform-origin:0 0;font-size:12.5px;line-height:15px;color:#1f3d0c">0-6 Months</div>
<div class="a" style="left:449.5px;top:594.3px;width:130.5px;height:39.700000000000045px;background:#ffff33;border:1px solid #ffffa8"></div>
<div class="t " style="left:464.50px;top:598.17px;letter-spacing:0.000px;transform:scaleX(1.077);transform-origin:0 0;font-size:12.5px;line-height:15px;color:#3a3a00">Balanced Market</div>
<div class="t " style="left:483.25px;top:613.67px;letter-spacing:0.000px;transform:scaleX(1.007);transform-origin:0 0;font-size:12.5px;line-height:15px;color:#3a3a00">6-7 Months</div>
<div class="a" style="left:449.5px;top:639.5px;width:130.5px;height:38.5px;background:#f0634a;border:1px solid #b5623c"></div>
<div class="t " style="left:473.25px;top:643.17px;letter-spacing:-0.000px;font-size:12.5px;line-height:15px;color:#5a1208">Buyer&#x27;s Market</div>
<div class="t " style="left:484.50px;top:658.17px;letter-spacing:0.000px;transform:scaleX(1.022);transform-origin:0 0;font-size:12.5px;line-height:15px;color:#5a1208">7+ Months</div>
<div class="a" style="left:0;top:688.7px;width:960px;height:3.4px;background:#6f1a0c"></div>
<div class="a" style="left:0;top:692px;width:960px;height:3.2px;background:#d98a94"></div>
<div class="a" style="left:0;top:695px;width:960px;height:25px;background:#a6a6a6"></div>
<div class="t" style="left:49.8px;top:697.8px;font-size:15px;line-height:18px;color:#96302f">8</div>
<div class="t ft" style="left:206.70px;top:695.30px;letter-spacing:0.027px;transform:scaleX(1.090);transform-origin:0 0;">BeachesMLS data for Single Family Detached Residences. Data is believed to be accurate but is not warranted.&nbsp; ©2025&nbsp; ChartMaster Services, LLC.</div>
<div class="t ft" style="left:284.00px;top:704.30px;letter-spacing:0.000px;transform:scaleX(1.083);transform-origin:0 0;">All rights reserved. This page shall not be reproduced without the written permission of JeromyTrask@kw.com.</div>
<div class="a" style="left:835.5px;top:683px;width:105px;height:31.5px;background:#f3c6d0"></div>
<div class="a" style="left:836.7px;top:684px;width:103px;height:30px;background:#c00000;border:2px solid #6b1d0e"></div>
<div class="t " style="left:852.50px;top:685.35px;letter-spacing:0.000px;transform:scaleX(1.024);transform-origin:0 0;font-size:11.5px;line-height:14px;color:#fff">Back to Table</div>
<div class="t " style="left:857.00px;top:697.85px;letter-spacing:-0.000px;transform:scaleX(1.028);transform-origin:0 0;font-size:11.5px;line-height:14px;color:#fff">of Contents</div>
</body></html>
